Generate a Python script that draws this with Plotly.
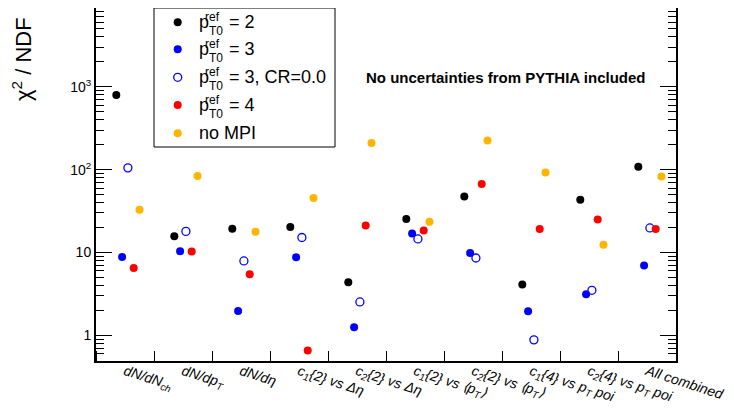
import plotly.graph_objects as go

# ---------------- data ----------------
categories = [
    "<i>dN/dN<sub>ch</sub></i>",
    "<i>dN/dp<sub>T</sub></i>",
    "<i>dN/dη</i>",
    "<i>c<sub>1</sub>{2} vs Δη</i>",
    "<i>c<sub>2</sub>{2} vs Δη</i>",
    "<i>c<sub>1</sub>{2} vs ⟨p<sub>T</sub>⟩</i>",
    "<i>c<sub>2</sub>{2} vs ⟨p<sub>T</sub>⟩</i>",
    "<i>c<sub>1</sub>{4} vs p<sub>T</sub> poi</i>",
    "<i>c<sub>2</sub>{4} vs p<sub>T</sub> poi</i>",
    "<i>All combined</i>",
]
pt0_2 = [794, 15.7, 19.4, 20.3, 4.38, 25.4, 47.4, 4.11, 43.3, 108]
pt0_3 = [8.85, 10.4, 1.98, 8.77, 1.26, 17.0, 9.9, 1.96, 3.14, 7.0]
pt0_3_cr0 = [105, 18.0, 7.93, 15.2, 2.54, 14.6, 8.6, 0.887, 3.51, 19.8]
pt0_4 = [6.53, 10.3, 5.47, 0.66, 21.2, 18.5, 66.9, 19.2, 25.1, 19.2]
no_mpi = [32.8, 83.6, 17.8, 45.4, 210, 23.5, 224, 92.3, 12.4, 82.6]

legend_suffix = ["= 2", "= 3", "= 3, CR=0.0", "= 4", None]
ytick_vals = [1, 10, 100, 1000]
ytick_text = ["1", "10", "10<sup>2</sup>", "10<sup>3</sup>"]

# ---------------- style ----------------
FONT = "Liberation Sans, Arial, Helvetica, sans-serif"
BODY = 8                     # default page margin around the plot div
W, H = 734 - 2 * BODY, 410 - 2 * BODY
# plot frame in screen pixels
PL, PR, PT, PB = 96, 676, 8, 361

series = [
    (pt0_2, "black", "circle", 0.35),
    (pt0_3, "#0000ff", "circle", 0.45),
    (pt0_3_cr0, "#0000ff", "circle-open", 0.55),
    (pt0_4, "#ff0000", "circle", 0.65),
    (no_mpi, "#ffb400", "circle", 0.75),
]

fig = go.Figure()
for vals, col, sym, off in series:
    fig.add_trace(go.Scatter(
        x=[i + off for i in range(len(vals))], y=vals, mode="markers",
        marker=dict(color=col, symbol=sym, size=8,
                    line=dict(color=col, width=1.3 if sym == "circle-open" else 0)),
        showlegend=False, cliponaxis=False))

# manual legend on a pixel-coordinate overlay
leg_rows = [22.3, 49.3, 77.3, 105, 133.3]
fig.add_trace(go.Scatter(
    x=[177.7] * 5, y=leg_rows, mode="markers", xaxis="x2", yaxis="y2",
    marker=dict(color=[s[1] for s in series], symbol=[s[2] for s in series], size=8,
                line=dict(color=[s[1] for s in series], width=[0, 0, 1.3, 0, 0])),
    showlegend=False, hoverinfo="skip", cliponaxis=False))

ann = []
def A(text, x, y, size, **kw):
    d = dict(text=text, x=x, y=y, xref="x2", yref="y2", showarrow=False,
             font=dict(family=FONT, size=size, color="black"),
             xanchor=kw.pop("xanchor", "left"), yanchor=kw.pop("yanchor", "middle"))
    d.update(kw)
    ann.append(d)

for k, suf in enumerate(legend_suffix):
    yv = leg_rows[k]
    if suf is None:
        A("no MPI", 197, yv, 18)
    else:
        A("p", 197, yv, 18)
        A("ref", 203, yv - 5, 12)
        A("T0", 207, yv + 9, 12)
        A(suf, 227, yv, 18)

A("<b>No uncertainties from PYTHIA included</b>", 505.5, 77, 15, xanchor="center")

# y-axis title (paper coordinates, left of the frame)
ann.append(dict(text="χ<sup>2</sup> / NDF", x=(22 - PL) / (PR - PL), y=(PB - 59) / (PB - PT),
                xref="paper", yref="paper", showarrow=False, textangle=-90,
                xanchor="center", yanchor="middle",
                font=dict(family=FONT, size=22, color="black")))

shapes = [dict(type="rect", xref="x2", yref="y2", x0=154, x1=335, y0=8, y1=147,
               line=dict(color="black", width=1), fillcolor="white", layer="below")]

minor_y = [0.6, 0.7, 0.8, 0.9] + [v * 10 ** e for e in range(0, 4) for v in range(2, 10)]

fig.update_layout(
    width=W, height=H,
    margin=dict(l=PL - BODY, r=W - (PR - BODY), t=PT - BODY, b=H - (PB - BODY), pad=0),
    paper_bgcolor="white", plot_bgcolor="white",
    font=dict(family=FONT, size=13, color="black"),
    xaxis=dict(range=[0, 10], tickvals=[i + 0.5 for i in range(10)], ticktext=categories,
               ticks="", tickangle=18, showgrid=False, zeroline=False, automargin=False,
               showline=True, linecolor="black", linewidth=2, mirror=True,
               tickfont=dict(size=14, family=FONT), ticklabelstandoff=-5,
               ticklabeloverflow="allow",
               minor=dict(tick0=0, dtick=1, ticks="inside", ticklen=10, tickwidth=1,
                          tickcolor="black", showgrid=False)),
    yaxis=dict(type="log", range=[-0.307, 3.948], tickvals=ytick_vals, ticktext=ytick_text,
               ticks="inside", ticklen=16, tickwidth=1, tickcolor="black", automargin=False,
               showgrid=False, zeroline=False, showline=True, linecolor="black",
               linewidth=2, mirror="ticks", tickfont=dict(size=14, family=FONT),
               minor=dict(tickvals=minor_y, ticks="inside", ticklen=8, tickwidth=1,
                          tickcolor="black", showgrid=False)),
    xaxis2=dict(overlaying="x", range=[PL, PR], visible=False, anchor="y2", automargin=False),
    yaxis2=dict(overlaying="y", range=[PB, PT], visible=False, anchor="x2", automargin=False),
    annotations=ann, shapes=shapes, showlegend=False,
)

fig.write_html("out.html")
